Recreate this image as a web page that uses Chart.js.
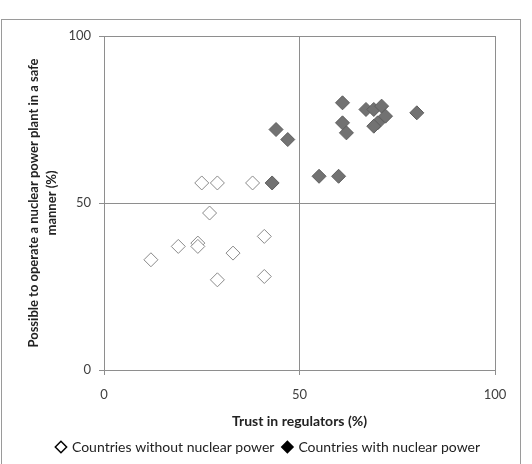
<!DOCTYPE html>
<html>
<head>
<meta charset="utf-8">
<script src="https://cdn.jsdelivr.net/npm/chart.js@4.4.1/dist/chart.umd.min.js"></script>
<style>
  body { margin: 0; background: #fff; }
  #wrap { position: relative; width: 532px; height: 464px; }
</style>
</head>
<body>
<div id="wrap"><canvas id="chart"></canvas></div>
<script>
// Data
const seriesNames = ['Countries without nuclear power', 'Countries with nuclear power'];
const withoutTrust = [25, 29, 38, 27, 41, 19, 24, 24, 33, 12, 29, 41];
const withoutSafe = [56, 56, 56, 47, 40, 37, 38, 37, 35, 33, 27, 28];
const withTrust = [44, 47, 43, 61, 61, 62, 67, 69, 71, 72, 70, 69, 80, 55, 60];
const withSafe = [72, 69, 56, 80, 74, 71, 78, 78, 79, 76, 74, 73, 77, 58, 58];
const tickValues = [0, 50, 100];

const toPoints = (xs, ys) => xs.map((x, i) => ({ x: x, y: ys[i] }));

// Outer frame around the chart, and legend nudged to the right like the original
const framePlugin = {
    id: 'frame',
    afterLayout(chart) {
        chart.legend.left += 14;
        chart.legend.right += 14;
    },
    beforeDraw(chart) {
        const ctx = chart.ctx;
        ctx.save();
        ctx.fillStyle = '#fff';
        ctx.fillRect(0, 0, chart.width, chart.height);
        ctx.strokeStyle = '#9a9a9a';
        ctx.lineWidth = 1;
        ctx.strokeRect(1.5, 19.5, 519, 460);
        ctx.restore();
    }
};

const gridColor = '#8e8e8e';
const font = 'Lato';

new Chart(document.getElementById('chart').getContext('2d'), {
    type: 'scatter',
    data: {
        datasets: [{
            label: seriesNames[0],
            data: toPoints(withoutTrust, withoutSafe),
            pointStyle: 'rectRot',
            radius: 7,
            hoverRadius: 7,
            backgroundColor: '#ffffff',
            borderColor: '#8a8a8a',
            borderWidth: 1
        }, {
            label: seriesNames[1],
            data: toPoints(withTrust, withSafe),
            pointStyle: 'rectRot',
            radius: 7,
            hoverRadius: 7,
            backgroundColor: '#727272',
            borderColor: '#5e5e5e',
            borderWidth: 1
        }]
    },
    options: {
        responsive: true,
        maintainAspectRatio: false,
        animation: false,
        layout: { padding: { top: 36, right: 37, left: 14, bottom: 0 } },
        plugins: {
            tooltip: { enabled: false },
            legend: {
                position: 'bottom',
                labels: {
                    usePointStyle: true,
                    boxWidth: 8,
                    boxHeight: 8,
                    padding: 9,
                    color: '#222',
                    font: { family: font, size: 14 },
                    generateLabels(chart) {
                        return chart.data.datasets.map((ds, i) => ({
                            text: ds.label,
                            pointStyle: 'rectRot',
                            fillStyle: i === 0 ? '#fff' : '#000',
                            strokeStyle: '#000',
                            lineWidth: 1.5,
                            fontColor: '#222',
                            datasetIndex: i
                        }));
                    }
                }
            }
        },
        scales: {
            x: {
                min: 0,
                max: 100,
                afterBuildTicks(scale) { scale.ticks = tickValues.map(v => ({ value: v })); },
                grid: { color: gridColor, tickLength: 5, drawTicks: true },
                border: { color: gridColor },
                ticks: { color: '#404040', padding: 12, font: { family: font, size: 13 } },
                title: {
                    display: true,
                    text: 'Trust in regulators (%)',
                    color: '#222',
                    font: { family: font, size: 14, weight: 'bold' },
                    padding: { top: 12, bottom: 1 }
                },
                afterFit(scale) { scale.height = 61; }
            },
            y: {
                min: 0,
                max: 100,
                afterBuildTicks(scale) { scale.ticks = tickValues.map(v => ({ value: v })); },
                grid: { color: gridColor, tickLength: 5, drawTicks: true },
                border: { color: gridColor },
                ticks: { color: '#404040', padding: 8, font: { family: font, size: 13 } },
                title: {
                    display: true,
                    text: ['Possible to operate a nuclear power plant in a safe', 'manner (%)'],
                    color: '#222',
                    font: { family: font, size: 13, weight: 'bold', lineHeight: 1.45 },
                    padding: { top: 10, bottom: 8 }
                },
                afterFit(scale) { scale.width = 90; }
            }
        }
    },
    plugins: [framePlugin]
});
</script>
</body>
</html>
